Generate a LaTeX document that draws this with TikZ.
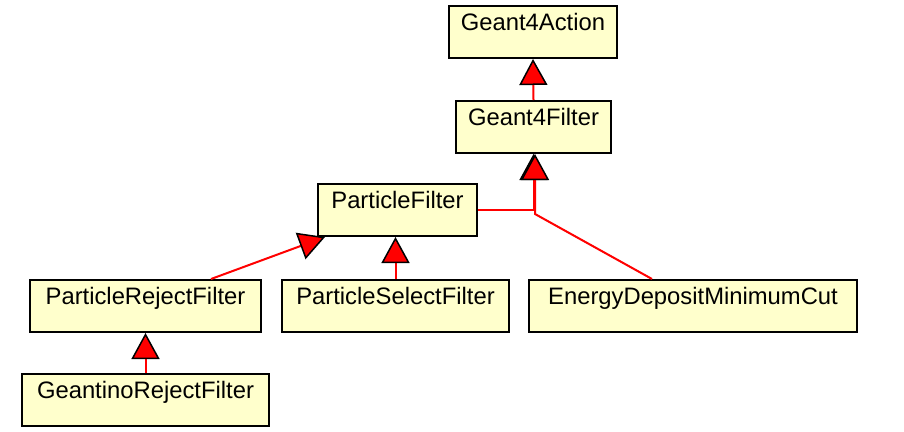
\documentclass[tikz,border=0pt]{standalone}
\usepackage{fontspec}
\setmainfont{Liberation Sans}
\usetikzlibrary{arrows.meta}
\definecolor{boxfill}{HTML}{FFFFCC}

\begin{document}
\begin{tikzpicture}[x=1pt, y=-1pt,
    cls/.style={draw, line width=2pt, fill=boxfill, anchor=north west, font=\fontsize{23.8}{28}\selectfont,
        text height=18pt, text depth=22pt, inner ysep=6pt, inner xsep=0pt, minimum height=52pt},
    inherit/.style={draw=red, line width=2pt,
        -{Triangle[length=26pt, width=28pt, fill=red, color=black, line width=1.5pt]}}]
    \useasboundingbox (0,0) rectangle (904,431);
    \node[cls, minimum width=168pt] (action) at (448,5) {Geant4Action};
    \node[cls, minimum width=155pt] (filter) at (455,100) {Geant4Filter};
    \node[cls, minimum width=159pt] (pfilter) at (317,183) {ParticleFilter};
    \node[cls, minimum width=231pt] (reject) at (29,279) {ParticleRejectFilter};
    \node[cls, minimum width=227pt] (select) at (281,279) {ParticleSelectFilter};
    \node[cls, minimum width=328pt] (energy) at (528,279) {EnergyDepositMinimumCut};
    \node[cls, minimum width=247pt] (geantino) at (21,373) {GeantinoRejectFilter};
    \coordinate (j) at (filter.south |- pfilter.east);
    \draw[inherit] (filter.north) -- (action.south);
    \draw[inherit] (pfilter.east) -- (j) -- (filter.south);
    \draw[inherit] ([xshift=-41pt]energy.north) -- ([xshift=1.5pt, yshift=-4pt]j) -- ([xshift=1.5pt]filter.south);
    \draw[inherit] ([xshift=65.5pt]reject.north) -- ([xshift=8pt]pfilter.south west);
    \draw[inherit] (select.north) -- (select.north |- pfilter.south);
    \draw[inherit] (geantino.north) -- (reject.south);
\end{tikzpicture}
\end{document}
